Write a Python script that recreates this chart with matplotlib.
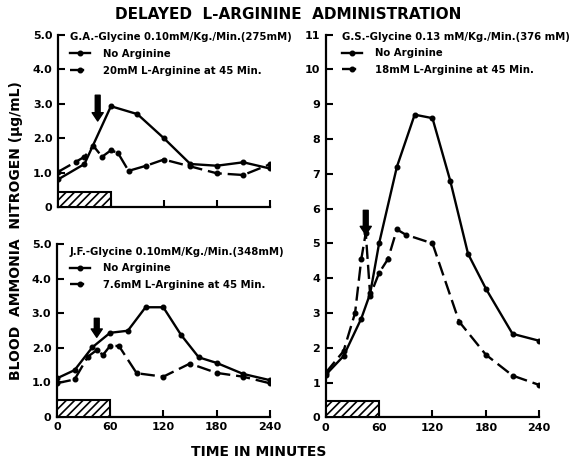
from matplotlib import pyplot as plt
from matplotlib.patches import Rectangle

plt.rcParams['font.family'] = ['DejaVu Sans']
plt.rcParams['font.weight'] = 'bold'
plt.rcParams['hatch.linewidth'] = 1.2
plt.rcParams['hatch.color'] = 'black'

# G.A. - top left
ga_t_no = [0, 30, 60, 90, 120, 150, 180, 210, 240]
ga_no = [0.80, 1.25, 2.93, 2.70, 2.00, 1.25, 1.20, 1.30, 1.12]
ga_t_arg = [0, 20, 30, 40, 50, 60, 68, 80, 100, 120, 150, 180, 210, 240]
ga_arg = [1.02, 1.31, 1.46, 1.78, 1.46, 1.65, 1.57, 1.05, 1.20, 1.38, 1.18, 0.98, 0.93, 1.24]

# J.F. - bottom left
jf_t_no = [0, 20, 40, 60, 80, 100, 120, 140, 160, 180, 210, 240]
jf_no = [1.11, 1.35, 2.01, 2.43, 2.49, 3.17, 3.17, 2.37, 1.72, 1.56, 1.24, 1.06]
jf_t_arg = [0, 20, 35, 45, 52, 60, 70, 90, 120, 150, 180, 210, 240]
jf_arg = [0.97, 1.08, 1.74, 1.93, 1.79, 2.05, 2.05, 1.26, 1.16, 1.54, 1.27, 1.16, 0.97]

# G.S. - right
gs_t_no = [0, 20, 40, 50, 60, 80, 100, 120, 140, 160, 180, 210, 240]
gs_no = [1.22, 1.76, 2.84, 3.56, 5.0, 7.2, 8.7, 8.6, 6.8, 4.7, 3.7, 2.4, 2.2]
gs_t_arg = [0, 20, 33, 40, 45, 50, 60, 70, 80, 90, 120, 150, 180, 210, 240]
gs_arg = [1.28, 1.9, 3.0, 4.55, 5.3, 3.5, 4.15, 4.55, 5.4, 5.25, 5.0, 2.75, 1.8, 1.2, 0.93]

x_ticks = [0, 60, 120, 180, 240]
left_yticks = [0, 1, 2, 3, 4, 5]
left_ylabels = ['0', '1.0', '2.0', '3.0', '4.0', '5.0']
right_yticks = list(range(0, 12))

panels = [
    dict(rect=[0.1005, 0.551, 0.367, 0.373], t_no=ga_t_no, no=ga_no,
         t_arg=ga_t_arg, arg=ga_arg, ymax=5, box=0.45, arrow=(3.25, 2.5),
         title='G.A.-Glycine 0.10mM/Kg./Min.(275mM)',
         arg_label='20mM L-Arginine at 45 Min.', xlabels=False,
         leg=(0.055, 1.015)),
    dict(rect=[0.0985, 0.096, 0.369, 0.3746], t_no=jf_t_no, no=jf_no,
         t_arg=jf_t_arg, arg=jf_arg, ymax=5, box=0.48, arrow=(2.85, 2.3),
         title='J.F.-Glycine 0.10mM/Kg./Min.(348mM)',
         arg_label='7.6mM L-Arginine at 45 Min.', xlabels=True,
         leg=(0.06, 0.985)),
    dict(rect=[0.5645, 0.0948, 0.370, 0.830], t_no=gs_t_no, no=gs_no,
         t_arg=gs_t_arg, arg=gs_arg, ymax=11, box=0.48, arrow=(5.95, 5.25),
         title='G.S.-Glycine 0.13 mM/Kg./Min.(376 mM)',
         arg_label='18mM L-Arginine at 45 Min.', xlabels=True,
         leg=(0.075, 1.008)),
]

fig = plt.figure(figsize=(5.77, 4.61), dpi=100)

for p in panels:
    ax = fig.add_axes(p['rect'])
    ax.plot(p['t_no'], p['no'], color='black', lw=1.7, marker='o', ms=3.3,
            label='No Arginine')
    ax.plot(p['t_arg'], p['arg'], color='black', lw=1.7, marker='o', ms=3.3,
            linestyle=(0, (6, 2.5)), label=p['arg_label'])
    ax.add_patch(Rectangle((0, 0), 60, p['box'], facecolor='white',
                           edgecolor='black', hatch='////', lw=1.5, zorder=3))
    ax.annotate('', xy=(45, p['arrow'][1]), xytext=(45, p['arrow'][0]),
                arrowprops=dict(facecolor='black', edgecolor='black',
                                width=3.5, headwidth=8, headlength=6))
    ax.set_xlim(0, 240)
    ax.set_ylim(0, p['ymax'])
    ax.set_xticks(x_ticks)
    if p['xlabels']:
        ax.set_xticklabels([str(x) for x in x_ticks])
    else:
        ax.set_xticklabels([])
    if p['ymax'] == 5:
        ax.set_yticks(left_yticks)
        ax.set_yticklabels(left_ylabels)
    else:
        ax.set_yticks(right_yticks)
    for s in ['top', 'right']:
        ax.spines[s].set_visible(False)
    for s in ['left', 'bottom']:
        ax.spines[s].set_linewidth(1.6)
    ax.tick_params(direction='in', length=5, width=1.5, labelsize=8, pad=4)
    leg = ax.legend(title=p['title'], loc='upper left',
                    bbox_to_anchor=p['leg'], frameon=False, fontsize=7.3,
                    title_fontsize=7.3, alignment='left', handlelength=2.0,
                    handletextpad=1.3, labelspacing=0.65, borderpad=0,
                    borderaxespad=0)
    leg.get_title().set_fontweight('bold')

fig.text(0.5, 0.968, 'DELAYED  L-ARGININE  ADMINISTRATION', ha='center',
         va='center', fontsize=11)
fig.text(0.027, 0.5, 'BLOOD  AMMONIA  NITROGEN (\u03bcg/mL)', rotation=90,
         ha='center', va='center', fontsize=10)
fig.text(0.449, 0.02, 'TIME IN MINUTES', ha='center', va='center', fontsize=10)

fig.savefig('out.png', dpi=100)
